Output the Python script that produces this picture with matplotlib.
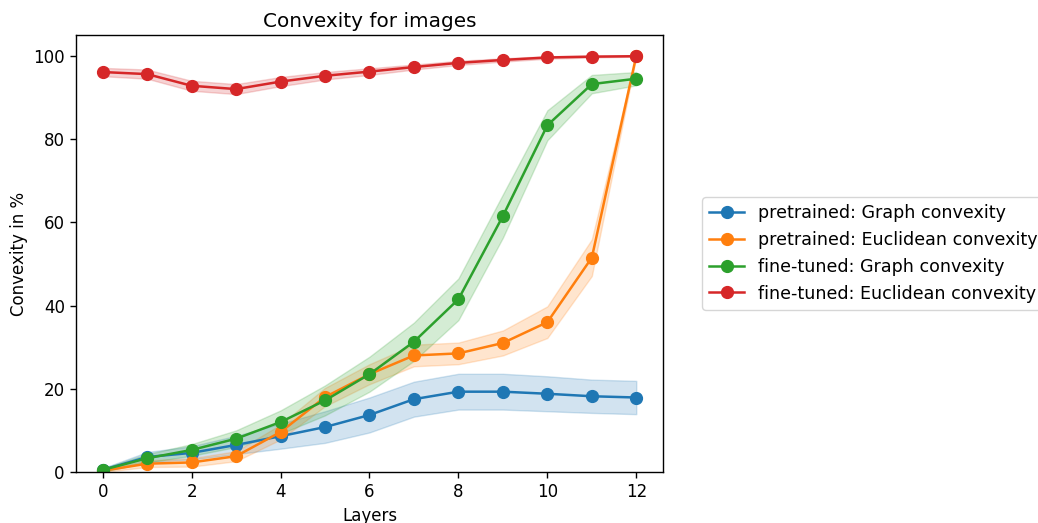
import numpy as np
import matplotlib
matplotlib.use("Agg")
import matplotlib.pyplot as plt

layers = np.arange(13)

pre_graph = [0.5, 3.6, 4.6, 6.5, 8.6, 10.8, 13.7, 17.5, 19.3, 19.3, 18.8, 18.2, 17.9]
pre_graph_sd = [0.4, 1.2, 1.6, 2.2, 3.0, 3.8, 4.2, 4.2, 4.3, 4.3, 4.2, 4.0, 4.0]

pre_eucl = [0.3, 2.0, 2.3, 3.8, 9.6, 18.0, 23.5, 28.0, 28.5, 31.0, 36.0, 51.5, 100.0]
pre_eucl_sd = [0.3, 0.8, 1.0, 1.2, 1.8, 2.2, 2.4, 2.6, 2.6, 3.0, 3.8, 4.4, 0.2]

ft_graph = [0.5, 3.3, 5.3, 8.0, 12.0, 17.2, 23.5, 31.3, 41.5, 61.5, 83.3, 93.2, 94.5]
ft_graph_sd = [0.4, 1.0, 1.4, 2.0, 2.8, 3.6, 4.2, 4.6, 5.0, 5.2, 3.6, 2.2, 1.6]

ft_eucl = [96.1, 95.6, 92.8, 92.0, 93.8, 95.2, 96.2, 97.3, 98.3, 99.0, 99.6, 99.8, 99.9]
ft_eucl_sd = [1.0, 1.1, 1.2, 1.2, 1.1, 0.9, 0.8, 0.6, 0.5, 0.4, 0.3, 0.2, 0.1]

series = [
    ("pretrained: Graph convexity", pre_graph, pre_graph_sd, "tab:blue"),
    ("pretrained: Euclidean convexity", pre_eucl, pre_eucl_sd, "tab:orange"),
    ("fine-tuned: Graph convexity", ft_graph, ft_graph_sd, "tab:green"),
    ("fine-tuned: Euclidean convexity", ft_eucl, ft_eucl_sd, "tab:red"),
]

fig = plt.figure(figsize=(10.38, 5.23), dpi=100)
ax = fig.add_axes([0.0732, 0.0975, 0.5655, 0.8356])

for label, vals, sd, col in series:
    vals = np.array(vals)
    sd = np.array(sd)
    ax.plot(layers, vals, marker="o", markersize=8.5, linewidth=1.8, color=col, label=label)
    ax.fill_between(layers, vals - sd, vals + sd, color=col, alpha=0.2)

ax.set_ylim(0, 105)
ax.set_xticks([0, 2, 4, 6, 8, 10, 12])
ax.set_xlabel("Layers", fontsize=12)
ax.set_ylabel("Convexity in %", fontsize=12)
ax.set_title("Convexity for images", fontsize=14.4)
ax.tick_params(labelsize=12, length=4.5, width=1)
for sp in ax.spines.values():
    sp.set_linewidth(1)
ax.legend(loc="center left", bbox_to_anchor=(1.052, 0.50), fontsize=12.6)

fig.savefig("out.png", dpi=100)
